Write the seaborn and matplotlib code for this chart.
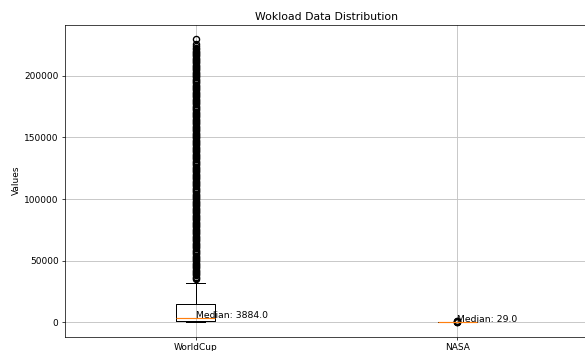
import numpy as np
import pandas as pd
import matplotlib
matplotlib.use("Agg")
import matplotlib.pyplot as plt
import seaborn as sns

# ---- data (frequency tables) ----
categories = ["WorldCup", "NASA"]

worldcup_levels = [0, 1000, 3884, 14600, 31600]
worldcup_counts = [120, 260, 240, 160, 20]
worldcup_fliers = [
    35200, 36100, 37100, 38000, 39000, 39900, 40900, 41800, 42800, 43700,
    44700, 45600, 46600, 47500, 48500, 49400, 50400, 51300, 52300, 53200,
    54200, 55100, 56100, 57000, 58000, 58900, 59900, 60800, 61800, 62700,
    63700, 64600, 65600, 66500, 67500, 68400, 69400, 70300, 71300, 72200,
    73200, 74100, 75100, 76000, 77000, 77900, 78900, 79800, 80800, 81700,
    82700, 83600, 84600, 85500, 86500, 87400, 88400, 89300, 90300, 91200,
    92200, 93100, 94100, 95000, 96000, 96900, 97900, 98800, 99800, 100700,
    101700, 102600, 103600, 104500, 105500, 106400, 107400, 108300, 109300, 110200,
    111200, 112100, 113100, 114000, 115000, 115900, 116900, 117800, 118800, 119700,
    120700, 121600, 122600, 123500, 124500, 125400, 126400, 127300, 128300, 129200,
    130200, 131100, 132100, 133000, 134000, 134900, 135900, 136800, 137800, 138700,
    139700, 140600, 141600, 142500, 143500, 144400, 145400, 146300, 147300, 148200,
    149200, 150100, 151100, 152000, 153000, 153900, 154900, 155800, 156800, 157700,
    158700, 159600, 160600, 161500, 162500, 163400, 164400, 165300, 166300, 167200,
    168200, 169100, 170100, 171000, 172000, 172900, 173900, 174800, 175800, 176700,
    177700, 178600, 179600, 180500, 181500, 182400, 183400, 184300, 185300, 186200,
    187200, 188100, 189100, 190000, 191000, 191900, 192900, 193800, 194800, 195700,
    196700, 197600, 198600, 199500, 200500, 201400, 202400, 203300, 204300, 205200,
    206200, 207100, 208100, 209000, 210000, 210900, 211900, 212800, 213800, 214700,
    215700, 216600, 217600, 218500, 219500, 220400, 221400, 222300, 224300, 226000,
    229700,
]

nasa_levels = [0, 10, 29, 70, 160]
nasa_counts = [20, 40, 40, 30, 6]
nasa_fliers = [220, 300, 450, 700, 1100]

wc_values = np.concatenate([np.repeat(worldcup_levels, worldcup_counts), worldcup_fliers])
nasa_values = np.concatenate([np.repeat(nasa_levels, nasa_counts), nasa_fliers])

df = pd.DataFrame({
    "Dataset": [categories[0]] * len(wc_values) + [categories[1]] * len(nasa_values),
    "Value": np.concatenate([wc_values, nasa_values]).astype(float),
})

# ---- figure ----
dpi = 65
fig = plt.figure(figsize=(585 / dpi, 351 / dpi), dpi=dpi)
ax = fig.add_axes([0.111, 0.0413, 0.894, 0.8875])

sns.boxplot(
    data=df, x="Dataset", y="Value", order=categories, ax=ax,
    width=0.15, fill=False, color="black", linewidth=1.1,
    boxprops=dict(color="black"),
    whiskerprops=dict(color="black"),
    capprops=dict(color="black"),
    medianprops=dict(color="C1", linewidth=1.3),
    flierprops=dict(marker="o", markersize=6.8, markerfacecolor="none",
                    markeredgecolor="black", markeredgewidth=1.5),
)

for i, cat in enumerate(categories):
    med = np.median(df.loc[df["Dataset"] == cat, "Value"].to_numpy())
    ax.text(i, med, f"Median: {med}", fontsize=10.2)

ax.set_title("Wokload Data Distribution", fontsize=12)
ax.set_xlabel("")
ax.set_ylabel("Values")
ax.grid(True, color="#c4c4c4", linewidth=1.0)
ax.set_axisbelow(True)

fig.savefig("out.png", dpi=dpi)
